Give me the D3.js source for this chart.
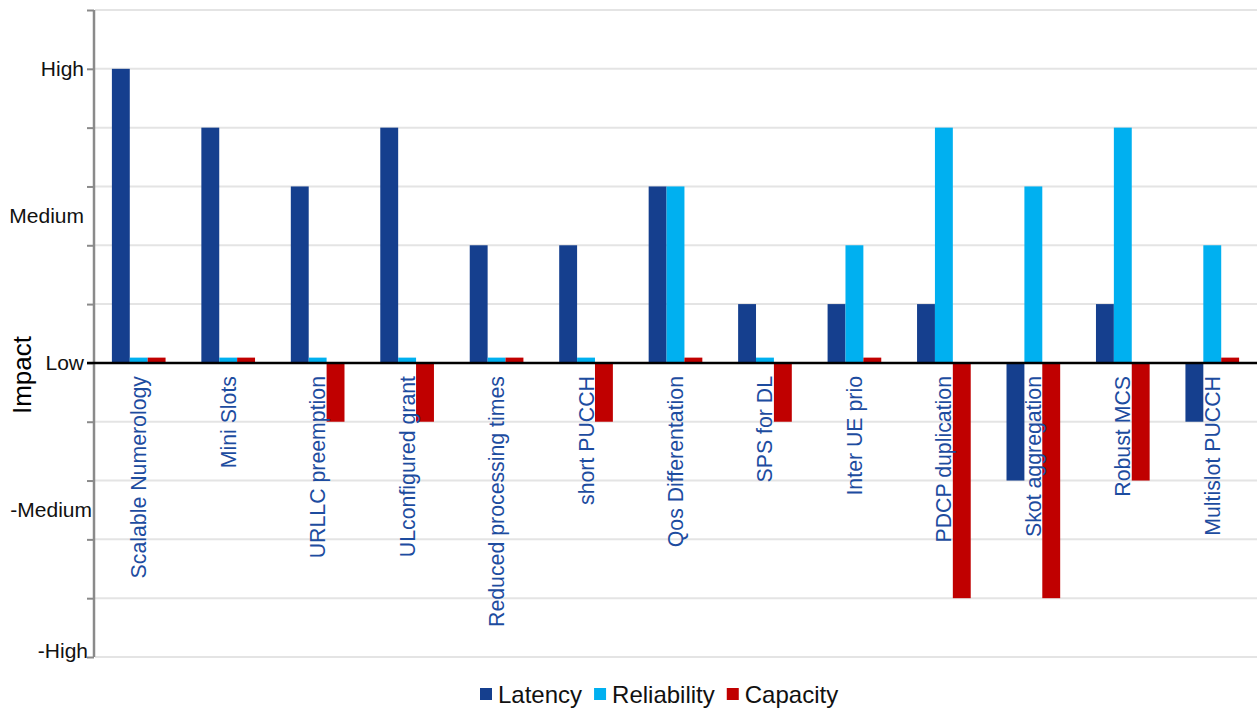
<!DOCTYPE html>
<html>
<head>
<meta charset="utf-8">
<script src="https://cdn.jsdelivr.net/npm/d3@7"></script>
<style>
  html, body { margin: 0; padding: 0; background: #fff; }
  svg { display: block; font-family: "Liberation Sans", Arial, sans-serif; }
</style>
</head>
<body>
<svg id="chart" width="1257" height="709"></svg>
<script>
const categories = ["Scalable Numerology", "Mini Slots", "URLLC preemption", "ULconfigured grant",
  "Reduced processing times", "short PUCCH", "Qos Differentation", "SPS for DL", "Inter UE prio",
  "PDCP duplication", "Skot aggregation", "Robust MCS", "Multislot PUCCH"];
const seriesNames = ["Latency", "Reliability", "Capacity"];
const latency     = [5, 4, 3, 4, 2, 2, 3, 1, 1, 1, -2, 1, -1];
const reliability = [0.09, 0.09, 0.09, 0.09, 0.09, 0.09, 3, 0.09, 2, 4, 3, 4, 2];
const capacity    = [0.09, 0.09, -1, -1, 0.09, -1, 0.09, -1, 0.09, -4, -4, -2, 0.09];
const tickValues = [5, 2.5, 0, -2.5, -5];
const tickLabels = ["High", "Medium", "Low", "-Medium", "-High"];
const colors = ["#153f8e", "#00b0f0", "#c00000"];

const svg = d3.select("#chart");
const seriesData = [latency, reliability, capacity];

const y = d3.scaleLinear().domain([-5, 6]).range([657, 10]);
const x0 = d3.scaleBand().domain(categories).range([94, 1257]).paddingInner(0).paddingOuter(0);
const x1 = d3.scaleBand().domain(seriesNames).range([0, x0.bandwidth()]).paddingInner(0).paddingOuter(1);

// gridlines
svg.append("g").selectAll("line").data(d3.range(-5, 7)).join("line")
  .attr("x1", 95).attr("x2", 1257)
  .attr("y1", d => y(d)).attr("y2", d => y(d))
  .attr("stroke", "#e4e4e4").attr("stroke-width", 2);

// y axis with minor ticks
const yAxisG = svg.append("g").attr("transform", "translate(94,0)")
  .call(d3.axisLeft(y).tickValues(d3.range(-5, 7)).tickSize(7).tickFormat(""));
yAxisG.select(".domain").attr("stroke", "#8a8a8a").attr("stroke-width", 2.5)
  .attr("d", `M0,${y(6)}V${y(-5)}`);
yAxisG.selectAll(".tick line").attr("stroke", "#8a8a8a").attr("stroke-width", 2);

// y labels
svg.append("g").selectAll("text").data(tickValues).join("text")
  .attr("x", d => d === -2.5 ? 92 : (d === -5 ? 88 : 84))
  .attr("y", (d, i) => y(d) + (d === -5 ? -6 : 0))
  .attr("dy", "0.35em")
  .attr("text-anchor", "end")
  .attr("font-size", 21)
  .attr("fill", "#111")
  .text((d, i) => tickLabels[i]);

// bars
seriesNames.forEach((s, si) => {
  svg.append("g").selectAll("rect").data(categories).join("rect")
    .attr("x", c => x0(c) + x1(s))
    .attr("width", x1.bandwidth())
    .attr("y", (c, i) => y(Math.max(0, seriesData[si][i])))
    .attr("height", (c, i) => Math.abs(y(seriesData[si][i]) - y(0)))
    .attr("fill", colors[si]);
});

// zero line
svg.append("line").attr("x1", 87).attr("x2", 1257)
  .attr("y1", y(0)).attr("y2", y(0))
  .attr("stroke", "#000").attr("stroke-width", 2.5);

// category labels
svg.append("g").selectAll("text").data(categories).join("text")
  .attr("transform", c => `translate(${x0(c) + x0.bandwidth() / 2},376) rotate(-90)`)
  .attr("dy", "0.35em")
  .attr("text-anchor", "end")
  .attr("font-size", 21.3)
  .attr("fill", "#1d4c9f")
  .text(c => c);

// y title
svg.append("text")
  .attr("transform", `translate(22,375) rotate(-90)`)
  .attr("dy", "0.35em")
  .attr("text-anchor", "middle")
  .attr("font-size", 26)
  .attr("fill", "#000")
  .text("Impact");

// legend
let lx = 480;
const lg = svg.append("g");
seriesNames.forEach((s, i) => {
  lg.append("rect").attr("x", lx).attr("y", 688).attr("width", 12).attr("height", 12).attr("fill", colors[i]);
  const t = lg.append("text").attr("x", lx + 18).attr("y", 703)
    .attr("font-size", 24).attr("fill", "#111").text(s);
  lx += 18 + t.node().getComputedTextLength() + 12;
});
</script>
</body>
</html>
